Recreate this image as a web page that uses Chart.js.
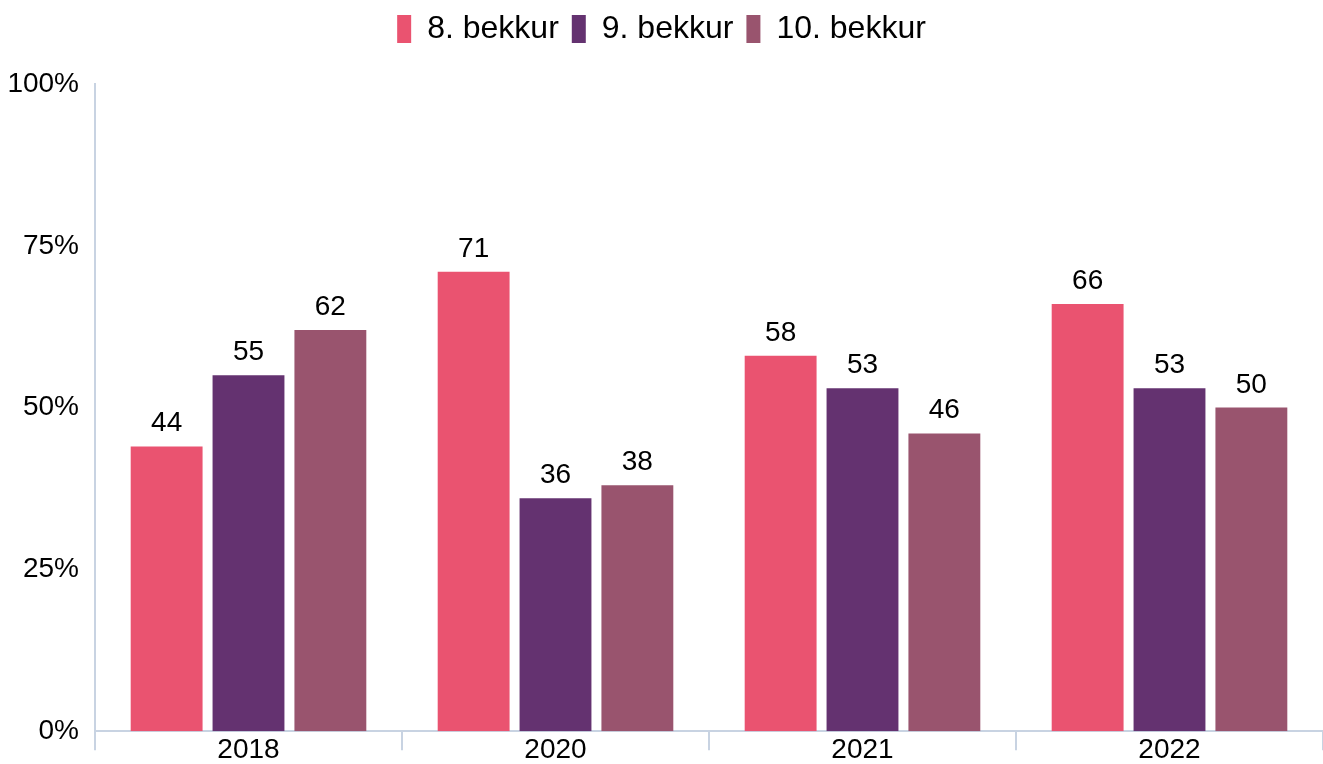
<!DOCTYPE html>
<html>
<head>
<meta charset="utf-8">
<script src="https://cdn.jsdelivr.net/npm/chart.js@4/dist/chart.umd.min.js"></script>
<style>
	html, body { margin: 0; padding: 0; background: #fff; }
	#wrap { width: 1323px; height: 764px; }
</style>
</head>
<body>
<div id="wrap"><canvas id="c" width="1323" height="764"></canvas></div>
<script>
const years = ['2018', '2020', '2021', '2022'];
const grade8 = [44, 71, 58, 66];
const grade9 = [55, 36, 53, 53];
const grade10 = [62, 38, 46, 50];
const seriesNames = ['8. bekkur', '9. bekkur', '10. bekkur'];
const yTicks = [0, 25, 50, 75, 100];

(function () {
	const cPink = '#ea5370';
	const cPurple = '#643270';
	const cMauve = '#99546e';
	const axisColor = '#c8d3e2';
	const font = 'Liberation Sans, Arial, sans-serif';

	// value labels above each bar
	const barLabels = {
		id: 'barLabels',
		afterDatasetsDraw(chart) {
			const ctx = chart.ctx;
			ctx.save();
			ctx.font = '28px ' + font;
			ctx.fillStyle = '#000';
			ctx.textAlign = 'center';
			ctx.textBaseline = 'alphabetic';
			chart.data.datasets.forEach((ds, i) => {
				chart.getDatasetMeta(i).data.forEach((bar, j) => {
					ctx.fillText(String(ds.data[j]), bar.x, bar.y - 15);
				});
			});
			ctx.restore();
		}
	};

	// fix the legend block height so the plot starts where the reference does
	const legendHeight = {
		id: 'legendHeight',
		beforeUpdate(chart) {
			const lg = chart.legend;
			if (lg && !lg._fixedFit) {
				const fit = lg.fit;
				lg.fit = function () { fit.call(this); this.height = 84; };
				lg._fixedFit = true;
			}
		}
	};

	new Chart(document.getElementById('c'), {
		type: 'bar',
		data: {
			labels: years,
			datasets: [
				{ label: seriesNames[0], data: grade8, backgroundColor: cPink },
				{ label: seriesNames[1], data: grade9, backgroundColor: cPurple },
				{ label: seriesNames[2], data: grade10, backgroundColor: cMauve }
			]
		},
		options: {
			responsive: false,
			animation: false,
			devicePixelRatio: 1,
			layout: { padding: { top: 0, left: 0, right: 0, bottom: -4 }, autoPadding: false },
			datasets: { bar: { categoryPercentage: 0.8, barPercentage: 0.878 } },
			plugins: {
				legend: {
					position: 'top',
					labels: {
						boxWidth: 14, boxHeight: 28, padding: 13,
						color: '#000', font: { family: font, size: 32 }
					}
				},
				tooltip: { enabled: false }
			},
			scales: {
				x: {
					grid: { offset: true, drawOnChartArea: false, drawTicks: true, tickLength: 19, color: axisColor, lineWidth: 2 },
					border: { color: axisColor, width: 2 },
					ticks: { color: '#000', font: { family: font, size: 28 }, padding: -17 },
					afterFit: s => { s.height = 30; }
				},
				y: {
					min: 0, max: 100,
					afterBuildTicks: s => { s.ticks = yTicks.map(v => ({ value: v })); },
					grid: { display: false, drawTicks: false },
					border: { color: axisColor, width: 2 },
					ticks: { color: '#000', font: { family: font, size: 28 }, padding: 16, callback: v => v + '%' },
					afterFit: s => { s.width = 95; }
				}
			}
		},
		plugins: [legendHeight, barLabels]
	});
})();
</script>
</body>
</html>
